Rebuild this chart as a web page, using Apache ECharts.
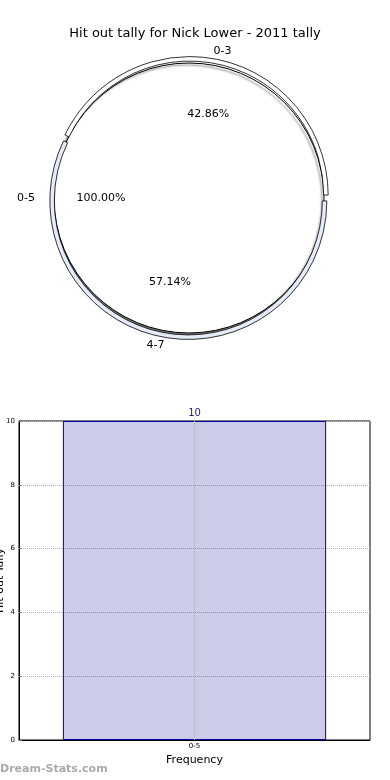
<!DOCTYPE html>
<html>
<head>
<meta charset="utf-8">
<script src="https://cdn.jsdelivr.net/npm/echarts@6/dist/echarts.min.js"></script>
<style>html,body{margin:0;padding:0;background:#fff;}#c{width:390px;height:780px;}</style>
</head>
<body>
<div id="c"></div>
<script>
// Data
var titleText = 'Hit out tally for Nick Lower - 2011 tally';
var outerNames = ['0-3', '4-7'];
var outerValues = [3, 4];
var innerNames = ['0-5'];
var innerValues = [10];
var barCategories = ['0-5'];
var barValues = [10];
var yTicks = [0, 2, 4, 6, 8, 10];

var chart = echarts.init(document.getElementById('c'), null, {renderer: 'canvas'});
var F = 'DejaVu Sans';
var R = 135;
var C = [189, 198];
var outerColors = ['#ffffff', '#e6ebf9'];

function pct(p) { return p.percent.toFixed(2) + '%'; }
function mk(names, vals, colors) {
  return names.map(function (n, i) {
    var o = {name: n, value: vals[i]};
    if (colors) o.itemStyle = {color: colors[i]};
    return o;
  });
}
function labelPie(names, vals, dist, fmt) {
  return {
    type: 'pie', center: C, radius: [dist - 0.5, dist + 0.5],
    startAngle: 0, clockwise: false, silent: true,
    itemStyle: {color: 'rgba(0,0,0,0)', borderWidth: 0},
    label: {show: true, position: 'inside', formatter: fmt, color: '#000', fontSize: 11, fontFamily: F},
    labelLine: {show: false}, emphasis: {disabled: true},
    data: mk(names, vals)
  };
}

chart.setOption({
  animation: false,
  title: {text: titleText, left: 'center', top: 22, textStyle: {fontSize: 13, fontWeight: 'normal', color: '#000', fontFamily: F}},
  graphic: [{type: 'text', left: 0, top: 764, style: {text: 'Dream-Stats.com', fill: '#aaaaaa', fontSize: 11, fontWeight: 'bold', fontFamily: F}}],
  grid: {left: 19, top: 421, width: 351, height: 319, show: true, borderColor: '#000', borderWidth: 1, backgroundColor: 'transparent', containLabel: false, outerBoundsMode: 'none'},
  xAxis: {
    type: 'category', data: barCategories,
    name: 'Frequency', nameLocation: 'middle', nameGap: 15,
    nameTextStyle: {fontSize: 11, color: '#000', fontFamily: F},
    axisLine: {show: true, lineStyle: {color: '#000'}},
    axisTick: {show: false},
    axisLabel: {fontSize: 7, color: '#000', margin: 3, fontFamily: F},
    splitLine: {show: false}
  },
  yAxis: {
    type: 'value', min: yTicks[0], max: yTicks[yTicks.length - 1], interval: 2,
    name: 'Hit out Tally', nameLocation: 'middle', nameGap: 13, nameRotate: 90, nameMoveOverlap: false,
    nameTextStyle: {fontSize: 11, color: '#000', fontFamily: F},
    axisLine: {show: true, lineStyle: {color: '#000'}},
    axisTick: {show: true, inside: true, length: 3, lineStyle: {color: '#888'}},
    axisLabel: {fontSize: 7, color: '#000', margin: 4, fontFamily: F},
    splitLine: {show: true, lineStyle: {color: '#b0b0b0', type: 'dotted', width: 1}}
  },
  series: [
    {
      type: 'pie', center: C, radius: [0, R], startAngle: 0, clockwise: false, silent: true,
      itemStyle: {color: '#fff', borderColor: '#000', borderWidth: 1, shadowColor: 'rgba(0,0,0,0.55)', shadowBlur: 2, shadowOffsetX: -2, shadowOffsetY: 2},
      label: {show: false}, labelLine: {show: false}, emphasis: {disabled: true},
      data: mk(innerNames, innerValues)
    },
    {
      type: 'pie', center: C, radius: [R - 1, R + 3.5], startAngle: 0, clockwise: false, silent: true,
      selectedMode: 'multiple', selectedOffset: 3,
      itemStyle: {borderColor: '#000', borderWidth: 0.8},
      label: {show: false}, labelLine: {show: false}, emphasis: {disabled: true},
      data: mk(outerNames, outerValues, outerColors).map(function (d) { d.selected = true; return d; })
    },
    labelPie(outerNames, outerValues, 83, pct),
    labelPie(innerNames, innerValues, 85, pct),
    labelPie(outerNames, outerValues, 148, '{b}'),
    labelPie(innerNames, innerValues, 160, '{b}'),
    {
      type: 'bar', data: barValues, barWidth: '75%',
      itemStyle: {color: 'rgba(0,0,139,0.2)', borderColor: '#0000aa', borderWidth: 1},
      label: {show: true, position: 'top', color: '#222288', fontSize: 10, distance: 3, fontFamily: F},
      markLine: {
        silent: true, symbol: 'none', label: {show: false},
        lineStyle: {color: '#b0b0b0', type: 'dotted', width: 1},
        data: [{xAxis: barCategories[0]}]
      }
    }
  ]
});
</script>
</body>
</html>
